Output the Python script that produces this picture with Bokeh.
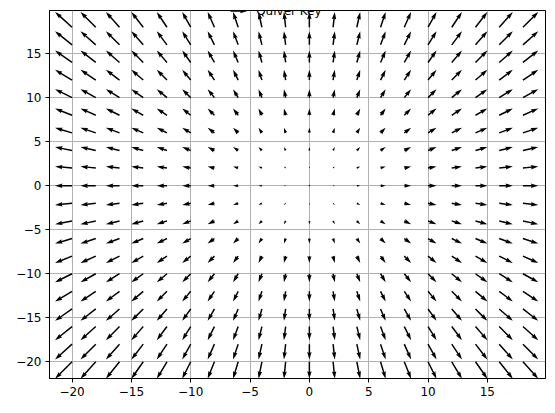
import numpy as np
from bokeh.plotting import figure
from bokeh.models import FixedTicker, Label, Range1d, PolyAnnotation
from bokeh.embed import file_html
from bokeh.resources import INLINE

# ---- data ----
grid_x = [-20, -18, -16, -14, -12, -10, -8, -6, -4, -2, 0, 2, 4, 6, 8, 10, 12, 14, 16, 18]
grid_y = [-20, -18, -16, -14, -12, -10, -8, -6, -4, -2, 0, 2, 4, 6, 8, 10, 12, 14, 16, 18]
u_by_column = [-20, -18, -16, -14, -12, -10, -8, -6, -4, -2, 0, 2, 4, 6, 8, 10, 12, 14, 16, 18]
v_by_row = [-20, -18, -16, -14, -12, -10, -8, -6, -4, -2, 0, 2, 4, 6, 8, 10, 12, 14, 16, 18]
x_ticks = [-20, -15, -10, -5, 0, 5, 10, 15]
x_tick_labels = ["\u221220", "\u221215", "\u221210", "\u22125", "0", "5", "10", "15"]
y_ticks = [-20, -15, -10, -5, 0, 5, 10, 15]
y_tick_labels = ["\u221220", "\u221215", "\u221210", "\u22125", "0", "5", "10", "15"]
key_u = 20
key_label = "Quiver Key"

# ---- layout / style ----
X0, X1 = -21.9, 19.9
Y0, Y1 = -21.9, 19.9
FW, FH = 496, 368
SX = FW / (X1 - X0)   # px per data unit
SY = FH / (Y1 - Y0)
PX_PER_U = 0.85       # arrow length in px per unit of (u, v)
N = len(grid_x) * len(grid_y)
W = 0.06 * FW / max(10, np.sqrt(N))   # shaft width in px
HEADW, HEADL, HEADAL, MINSHAFT, MINLEN = 3.0, 5.0, 4.5, 1.0, 1.0
KEY_AX_X, KEY_AX_Y_PX = 0.382, 0.5    # key centre: axes fraction, px below top
LABELSEP_PX = 8.7

def arrow_shape(length_w, pivot="tail"):
    """matplotlib-like arrow outline, in shaft-width units (along, perp)."""
    minsh = MINSHAFT * HEADL
    ii = [0, 1, 2, 3, 2, 1, 0, 0]
    if length_w < MINLEN:
        th = np.arange(0, 8, 1.0) * (np.pi / 3.0)
        return np.cos(th) * MINLEN * 0.5, np.sin(th) * MINLEN * 0.5
    if length_w < minsh:
        x = np.array([0, minsh - HEADAL, minsh - HEADL, minsh])
        y = 0.5 * np.array([1, 1, HEADW, 0])
        X = x[ii] * (length_w / minsh)
        Y = y[ii] * (length_w / minsh)
    else:
        x = np.array([0, length_w - HEADAL, length_w - HEADL, length_w])
        y = 0.5 * np.array([1, 1, HEADW, 0])
        X = x[ii].copy()
        Y = y[ii].copy()
    Y[3:-1] *= -1
    if pivot == "middle":
        X = X - 0.5 * X[3]
    return X, Y

def arrow_polygon(x, y, u, v, pivot="tail"):
    mag = np.hypot(u, v)
    length_w = mag * PX_PER_U / W
    ang = np.arctan2(v, u)
    a, q = arrow_shape(length_w, pivot)
    px = (a * np.cos(ang) - q * np.sin(ang)) * W
    py = (a * np.sin(ang) + q * np.cos(ang)) * W
    return list(x + px / SX), list(y + py / SY)

xs, ys = [], []
for j, gy in enumerate(grid_y):
    for i, gx in enumerate(grid_x):
        px_, py_ = arrow_polygon(gx, gy, u_by_column[i], v_by_row[j])
        xs.append(px_)
        ys.append(py_)

p = figure(frame_width=FW, frame_height=FH,
           x_range=Range1d(X0, X1), y_range=Range1d(Y0, Y1),
           output_backend="svg", toolbar_location=None,
           min_border_left=49, min_border_right=4, min_border_top=10, min_border_bottom=25,
           background_fill_color="white", border_fill_color="white")

p.patches(xs, ys, fill_color="black", line_color=None)

# quiver key (drawn as an annotation so it may overlap the top spine)
kx = X0 + KEY_AX_X * (X1 - X0)
ky = Y1 - KEY_AX_Y_PX / SY
kxs, kys = arrow_polygon(kx, ky, key_u, 0, pivot="middle")
p.add_layout(PolyAnnotation(xs=kxs, ys=kys, fill_color="black", fill_alpha=1.0,
                            line_color=None, level="overlay"))
tip_x = kx + 0.5 * key_u * PX_PER_U / SX
p.add_layout(Label(x=tip_x + LABELSEP_PX / SX, y=Y1, text=key_label,
                   text_align="left", text_baseline="middle",
                   text_font="DejaVu Sans", text_font_size="12px", text_color="black"))

# axes styling
for ax, ticks, labels in ((p.xaxis, x_ticks, x_tick_labels), (p.yaxis, y_ticks, y_tick_labels)):
    ax.ticker = FixedTicker(ticks=ticks)
    ax.major_label_overrides = {t: l for t, l in zip(ticks, labels)}
    ax.axis_line_color = "black"
    ax.axis_line_width = 1
    ax.major_tick_line_color = "black"
    ax.major_tick_line_width = 1
    ax.major_tick_out = 4
    ax.major_tick_in = 0
    ax.minor_tick_line_color = None
    ax.major_label_text_font = "DejaVu Sans"
    ax.major_label_text_font_size = "12px"
    ax.major_label_text_color = "black"
    ax.major_label_standoff = 4

p.xgrid.ticker = FixedTicker(ticks=x_ticks)
p.ygrid.ticker = FixedTicker(ticks=y_ticks)
for g in (p.xgrid, p.ygrid):
    g.grid_line_color = "#b0b0b0"
    g.grid_line_width = 1
    g.grid_line_alpha = 1.0

p.outline_line_color = "black"
p.outline_line_width = 1
p.outline_line_alpha = 1.0

open("out.html", "w").write(file_html(p, INLINE))
